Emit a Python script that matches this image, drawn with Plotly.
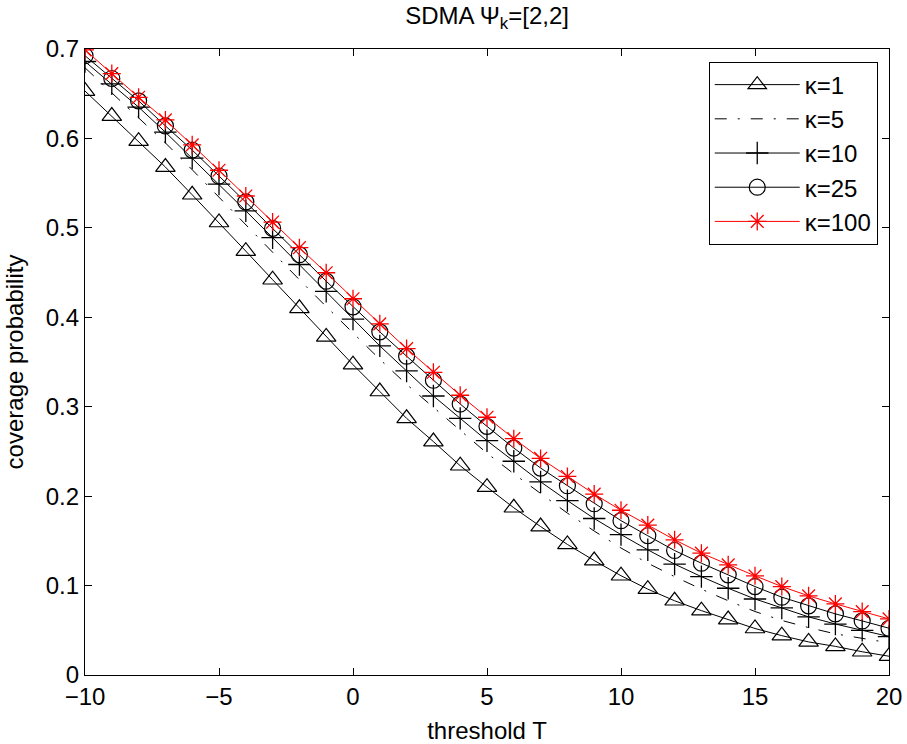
import plotly.graph_objects as go

# threshold T (dB)
threshold = list(range(-10, 21))

kappa_1 = [0.653, 0.625, 0.597, 0.568, 0.537, 0.506, 0.474, 0.442, 0.410, 0.378,
           0.347, 0.317, 0.287, 0.261, 0.234, 0.210, 0.187, 0.166, 0.146, 0.128,
           0.111, 0.096, 0.083, 0.072, 0.062, 0.052, 0.044, 0.037, 0.032, 0.026, 0.021]
kappa_5 = [0.679, 0.651, 0.624, 0.595, 0.565, 0.534, 0.503, 0.472, 0.442, 0.412,
           0.382, 0.353, 0.325, 0.299, 0.273, 0.248, 0.225, 0.203, 0.181, 0.161,
           0.142, 0.125, 0.110, 0.096, 0.083, 0.071, 0.061, 0.053, 0.046, 0.041, 0.036]
kappa_10 = [0.686, 0.661, 0.635, 0.607, 0.578, 0.549, 0.519, 0.489, 0.459, 0.429,
            0.398, 0.368, 0.340, 0.312, 0.287, 0.262, 0.239, 0.216, 0.195, 0.175,
            0.157, 0.140, 0.124, 0.110, 0.097, 0.085, 0.075, 0.065, 0.057, 0.050, 0.043]
kappa_25 = [0.6925, 0.667, 0.642, 0.614, 0.587, 0.558, 0.529, 0.4994, 0.470, 0.4404,
            0.4117, 0.3837, 0.3565, 0.3296, 0.303, 0.278, 0.2538, 0.2314, 0.2116, 0.1915,
            0.1726, 0.1557, 0.1392, 0.125, 0.112, 0.0989, 0.087, 0.0773, 0.0683, 0.0605, 0.0523]
kappa_100 = [0.699, 0.6725, 0.646, 0.6207, 0.5928, 0.5644, 0.5356, 0.5065, 0.4778, 0.4498,
             0.4207, 0.3927, 0.365, 0.3385, 0.3128, 0.2882, 0.2643, 0.2422, 0.222, 0.2023,
             0.1842, 0.1676, 0.1512, 0.1362, 0.1232, 0.1109, 0.0989, 0.0885, 0.0795, 0.0709, 0.0627]

x_ticks = [-10, -5, 0, 5, 10, 15, 20]
y_ticks = [0, 0.1, 0.2, 0.3, 0.4, 0.5, 0.6, 0.7]

FONT = "Liberation Sans, Arial, Helvetica, sans-serif"
FS = 24

fig = go.Figure()

# kappa = 1, triangles
fig.add_trace(go.Scatter(
    x=threshold, y=kappa_1, mode="lines+markers", name="κ=1",
    legendgroup="k1",
    line=dict(color="black", width=1),
    marker=dict(symbol="triangle-up-open", size=17, color="black",
                line=dict(color="black", width=1.2))
))

# kappa = 5, dash-dot, no markers
fig.add_trace(go.Scatter(
    x=threshold, y=kappa_5, mode="lines", name="κ=5",
    legendgroup="k5",
    line=dict(color="black", width=1, dash="12px,11px,2px,11px")
))

# kappa = 10, plus
fig.add_trace(go.Scatter(
    x=threshold, y=kappa_10, mode="lines+markers", name="κ=10",
    legendgroup="k10",
    line=dict(color="black", width=1),
    marker=dict(symbol="cross-thin-open", size=16, color="black",
                line=dict(color="black", width=1.3))
))

# kappa = 25, circles
fig.add_trace(go.Scatter(
    x=threshold, y=kappa_25, mode="lines+markers", name="κ=25",
    legendgroup="k25",
    line=dict(color="black", width=1),
    marker=dict(symbol="circle-open", size=16, color="black",
                line=dict(color="black", width=1.2))
))

# kappa = 100, red asterisks
fig.add_trace(go.Scatter(
    x=threshold, y=kappa_100, mode="lines+markers", name="κ=100",
    legendgroup="k100",
    line=dict(color="red", width=1),
    marker=dict(symbol="asterisk-open", size=15, color="red",
                line=dict(color="red", width=1.3))
))

axis_common = dict(
    showline=True, linecolor="black", linewidth=1.2, mirror="ticks",
    ticks="inside", ticklen=7, tickcolor="black", tickwidth=1,
    showgrid=False, zeroline=False, automargin=False,
    tickfont=dict(family=FONT, size=FS, color="black"),
)

fig.update_xaxes(
    range=[-10, 20], tickvals=x_ticks,
    title=dict(text="threshold T", font=dict(family=FONT, size=FS, color="black")),
    **axis_common
)
fig.update_yaxes(
    range=[0, 0.7], tickvals=y_ticks,
    title=dict(text="coverage probability", font=dict(family=FONT, size=FS, color="black")),
    **axis_common
)

fig.update_layout(
    width=907, height=744,
    margin=dict(l=85, r=18, t=49, b=69),
    plot_bgcolor="white", paper_bgcolor="white",
    title=dict(text="SDMA Ψ<sub>k</sub>=[2,2]", x=0.537, xanchor="center",
               y=0.99, yanchor="top", yref="container",
               font=dict(family=FONT, size=FS, color="black")),
    legend=dict(
        x=0.986, y=0.98, xanchor="right", yanchor="top",
        bordercolor="black", borderwidth=1, bgcolor="white",
        font=dict(family=FONT, size=FS, color="black"),
        tracegroupgap=0, itemwidth=85,
    ),
    showlegend=True,
)

# drop the default page margin so the figure sits at the window's corner
fig.write_html(
    "out.html",
    config={"displayModeBar": False},
    post_script="document.body.style.margin='0';document.body.style.overflow='hidden';",
)
